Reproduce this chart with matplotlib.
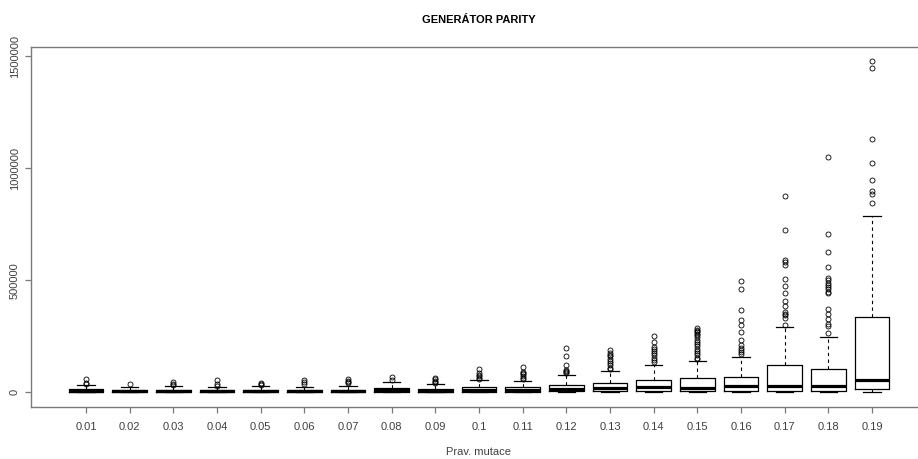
import numpy as np
import matplotlib
matplotlib.use("Agg")
import matplotlib.pyplot as plt

# category labels (mutation probability)
labels = ["0.01", "0.02", "0.03", "0.04", "0.05", "0.06", "0.07", "0.08", "0.09", "0.1",
          "0.11", "0.12", "0.13", "0.14", "0.15", "0.16", "0.17", "0.18", "0.19"]

# box statistics
whislo = [0, 0, 0, 0, 0, 0, 0, 0, 0, 0, 0, 0, 0, 0, 0, 0, 0, 0, 0]
q1 = [1500, 1500, 1500, 1500, 1500, 1500, 1500, 2000, 2000, 2500,
      2500, 4000, 7000, 7000, 5000, 7000, 7000, 7000, 13400]
med = [7000, 5800, 5800, 5000, 5000, 5000, 5800, 9000, 7000, 9000,
       10300, 14700, 18000, 23500, 19000, 27000, 28000, 29500, 56000]
q3 = [14700, 9000, 10000, 10000, 10000, 10000, 11600, 20500, 16000, 25000,
      23700, 32600, 43000, 55000, 64000, 68000, 120500, 105000, 335000]
whishi = [32600, 22000, 26800, 23700, 26800, 25000, 29500, 44600, 38400, 53600,
          50400, 78600, 96000, 120500, 138000, 159000, 290000, 248000, 787000]
fliers = [
    [59000, 41000, 36000],
    [38400],
    [46000, 37000, 31000],
    [53600, 35700, 29500],
    [41000, 36000, 33000],
    [53000, 45000, 37000],
    [59000, 52000, 46000, 40000],
    [68000, 55000],
    [65000, 58000, 52000, 47000, 42000],
    [104000, 85000, 78000, 72000, 65000, 60000],
    [111000, 92000, 88000, 80000, 72000, 65000, 58000],
    [198000, 160000, 122000, 100000, 95000, 90000, 85000],
    [189000, 166000, 175000, 160000, 150000, 140000, 130000, 120000, 110000, 102000],
    [250000, 224000, 203000, 195000, 185000, 175000, 165000, 155000, 145000, 135000],
    [286000, 280000, 275000, 268000, 262000, 255000, 245000, 235000, 225000, 215000,
     205000, 195000, 185000, 175000, 165000, 155000, 148000],
    [498000, 461000, 367000, 323000, 300000, 270000, 233000, 211000, 200000, 190000,
     180000, 170000],
    [876000, 723000, 590000, 580000, 570000, 504000, 474000, 442000, 407000, 385000,
     358000, 350000, 345000, 330000, 300000],
    [1049000, 708000, 628000, 559000, 510000, 500000, 490000, 480000, 470000, 460000,
     450000, 443000, 373000, 348000, 326000, 305000, 296000, 263000],
    [1480000, 1449000, 1129000, 1022000, 948000, 900000, 885000, 844000],
]

stats = []
for i in range(len(labels)):
    stats.append(dict(whislo=whislo[i], q1=q1[i], med=med[i], q3=q3[i],
                      whishi=whishi[i], fliers=fliers[i], label=labels[i]))

plt.rcParams["font.family"] = ["Liberation Sans Narrow", "Liberation Sans", "DejaVu Sans"]

fig = plt.figure(figsize=(9.18, 4.59), dpi=100)
ax = fig.add_axes([31 / 918, 1 - 407 / 459, 896 / 918, 360 / 459])

pos = np.arange(1, len(labels) + 1)
ax.bxp(stats, positions=pos, widths=0.8, capwidths=0.4, patch_artist=False,
       boxprops=dict(color="black", linewidth=0.9),
       whiskerprops=dict(color="black", linewidth=0.8, linestyle=(0, (3, 3))),
       capprops=dict(color="black", linewidth=0.9),
       medianprops=dict(color="black", linewidth=2.3),
       flierprops=dict(marker="o", markerfacecolor="none", markeredgecolor="black",
                       markersize=3.6, markeredgewidth=0.6))

ax.set_xlim(-0.26, 20.26)
ax.set_ylim(-65600, 1541500)
ax.set_xticks(pos)
ax.set_xticklabels(labels)
ax.set_yticks([0, 500000, 1000000, 1500000])
ax.set_yticklabels(["0", "500000", "1000000", "1500000"], rotation=90, va="center")

for s in ax.spines.values():
    s.set_color("#7a7a7a")
    s.set_linewidth(1.0)
ax.tick_params(axis="both", colors="#7a7a7a", labelcolor="#404040", length=4, width=0.9,
               labelsize=8)
ax.tick_params(axis="x", pad=7)
ax.tick_params(axis="y", pad=4)

fig.text(479 / 918, 1 - 20 / 459, "GENERÁTOR PARITY", ha="center", va="center",
         fontsize=8, fontweight="bold", color="black")
fig.text(479 / 918, 1 - 452 / 459, "Prav. mutace", ha="center", va="center",
         fontsize=8, color="#404040")

fig.savefig("out.png", dpi=100)
